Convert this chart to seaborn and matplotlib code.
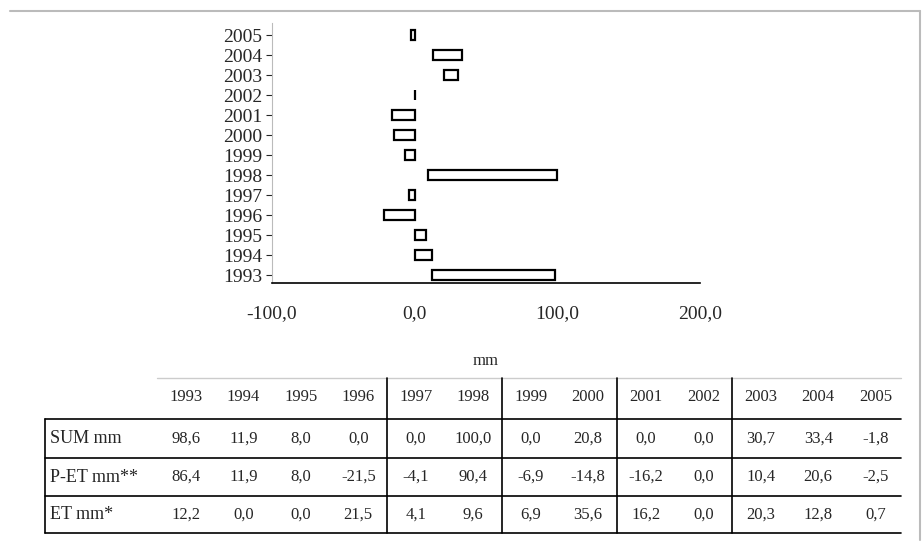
import numpy as np
import pandas as pd
import seaborn as sns
import matplotlib.pyplot as plt
from matplotlib.lines import Line2D

years = ["1993", "1994", "1995", "1996", "1997", "1998", "1999",
         "2000", "2001", "2002", "2003", "2004", "2005"]
sum_mm = [98.6, 11.9, 8.0, 0.0, 0.0, 100.0, 0.0, 20.8, 0.0, 0.0, 30.7, 33.4, -1.8]
p_et = [86.4, 11.9, 8.0, -21.5, -4.1, 90.4, -6.9, -14.8, -16.2, 0.0, 10.4, 20.6, -2.5]
et = [12.2, 0.0, 0.0, 21.5, 4.1, 9.6, 6.9, 35.6, 16.2, 0.0, 20.3, 12.8, 0.7]
row_names = ["SUM mm", "P-ET mm**", "ET mm*"]

sns.set_style("white")
plt.rcParams["font.family"] = ["Liberation Serif", "DejaVu Serif"]

W, H = 923, 547
fig = plt.figure(figsize=(W / 100, H / 100), dpi=100)


def fx(px):
    return px / W


def fy(py):
    return 1 - py / H


ax = fig.add_axes([fx(272), fy(283), fx(700) - fx(272), fy(23) - fy(283)])

df = pd.DataFrame({"year": years, "pet": p_et, "et": et})
df = df.iloc[::-1].reset_index(drop=True)
# excel stacking: positive P-ET sits on top of ET, negatives start at zero
base = np.where(df["pet"] > 0, df["et"], 0.0)

sns.barplot(data=df, x="pet", y="year", order=list(df["year"]), orient="h",
            width=0.5, color="white", edgecolor="black", linewidth=1.6,
            left=base, ax=ax)

ax.set_xlim(-100, 200)
ax.set_ylim(12.4, -0.6)
ax.set_xticks([-100, 0, 100, 200])
ax.set_xticklabels([f"{v:.1f}".replace(".", ",") for v in [-100, 0, 100, 200]])
ax.set_xlabel("mm", fontsize=12, labelpad=22)
ax.set_ylabel("")
ax.tick_params(axis="x", length=4, width=0.8, pad=12, labelsize=14, direction="out")
ax.tick_params(axis="y", length=4, width=0.8, pad=3, labelsize=14, direction="out", left=True)
for s in ["top", "right"]:
    ax.spines[s].set_visible(False)
ax.spines["left"].set_color("#bbbbbb")
ax.spines["left"].set_linewidth(0.8)
ax.spines["bottom"].set_color("black")
ax.spines["bottom"].set_linewidth(1.2)

# data table under the chart
label_left, col0, col_w = 45, 157, 57.5
right_edge = col0 + col_w * len(years)
header_y = 397
row_lines = [419, 458, 496, 533]


def hline(y, x0, x1, color="black", lw=1.2):
    fig.add_artist(Line2D([fx(x0), fx(x1)], [fy(y), fy(y)], color=color, lw=lw))


def vline(x, y0, y1, color="black", lw=1.2):
    fig.add_artist(Line2D([fx(x), fx(x)], [fy(y0), fy(y1)], color=color, lw=lw))


hline(378, col0, right_edge - 4, color="#cccccc", lw=1.0)
for y in row_lines:
    hline(y, label_left, right_edge - 4)
vline(label_left, row_lines[0], row_lines[-1])
for k in [4, 6, 8, 10]:
    vline(col0 + col_w * k, 378, row_lines[-1])

for i, yr in enumerate(years):
    cx = col0 + col_w * (i + 0.5)
    fig.text(fx(cx), fy(header_y), yr, ha="center", va="center", fontsize=12)

rows = [sum_mm, p_et, et]
for r, (name, vals) in enumerate(zip(row_names, rows)):
    cy = (row_lines[r] + row_lines[r + 1]) / 2
    fig.text(fx(label_left + 5), fy(cy), name, ha="left", va="center", fontsize=13)
    for i, v in enumerate(vals):
        cx = col0 + col_w * (i + 0.5)
        fig.text(fx(cx), fy(cy), f"{v:.1f}".replace(".", ","),
                 ha="center", va="center", fontsize=12)

# light outer frame of the chart area
hline(11, 10, 920, color="#bbbbbb", lw=1.5)
vline(920, 11, 540, color="#bbbbbb", lw=1.5)

fig.savefig("out.png", dpi=100)
